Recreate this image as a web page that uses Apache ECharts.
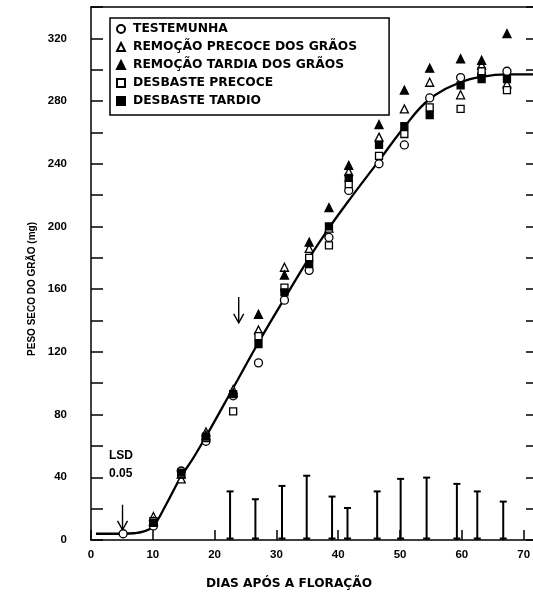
<!DOCTYPE html>
<html><head><meta charset="utf-8">
<script src="https://cdn.jsdelivr.net/npm/echarts@6/dist/echarts.min.js"></script>
<style>html,body{margin:0;padding:0;background:#fff}#c{width:533px;height:594px}</style>
</head><body><div id="c"></div>
<script>
// ---- data ----
const days = [5.2, 10.1, 14.6, 18.6, 23.0, 27.1, 31.3, 35.3, 38.5, 41.7, 46.6, 50.7, 54.8, 59.8, 63.2, 67.3];
const testemunha      = [4, 9, 44, 63, 92, 113, 153, 172, 193, 223, 240, 252, 282, 295, 297, 299];
const remocaoPrecoce  = [null, 15, 39, 69, 96, 134, 174, 186, 199, 235, 257, 275, 292, 284, 303, 291];
const remocaoTardia   = [null, 12, 42, 67, 94, 144, 169, 190, 212, 239, 265, 287, 301, 307, 306, 323];
const desbastePrecoce = [null, 12, 42, 65, 82, 130, 161, 180, 188, 227, 245, 259, 276, 275, 299, 287];
const desbasteTardio  = [null, 11, 43, 66, 93, 125, 158, 176, 200, 231, 252, 264, 271, 290, 294, 294];

const seriesNames = ['TESTEMUNHA', 'REMOÇÃO PRECOCE DOS GRÃOS', 'REMOÇÃO TARDIA DOS GRÃOS', 'DESBASTE PRECOCE', 'DESBASTE TARDIO'];

// fitted curve (traced)
const curveDays   = [0.8, 3, 5, 7, 8.4, 10, 12.2, 14.5, 16.5, 18.6, 23, 27.1, 31.3, 35.3, 38.5, 41.8, 46.6, 50.6, 54.7, 59.8, 63.2, 67.3, 72];
const curveValues = [4, 4, 4, 4.3, 5.3, 8.5, 23, 40, 52, 66, 97, 126, 154, 180, 199, 217, 242, 263, 281, 292, 295.5, 297, 297];

// LSD 0.05 bars
const lsdDays   = [22.5, 26.6, 30.9, 34.9, 39.0, 41.5, 46.3, 50.1, 54.3, 59.2, 62.5, 66.7];
const lsdValues = [31, 26, 34.5, 41, 27.7, 20.4, 31, 39, 39.8, 35.8, 31, 24.5];

// arrows (day, from value, to value)
const arrowDays = [5.1, 23.9];
const arrowFrom = [22.5, 155];
const arrowTo   = [6.5, 138.5];

const xTickLabels = [0, 10, 20, 30, 40, 50, 60, 70];
const yTickLabels = [0, 40, 80, 120, 160, 200, 240, 280, 320];

// ---- chart ----
const FONT = 'Liberation Sans';
const chart = echarts.init(document.getElementById('c'), null, {renderer: 'canvas'});

const symbolDefs = [
  {symbol: 'circle', fill: '#fff', size: 8},
  {symbol: 'triangle', fill: '#fff', size: 8},
  {symbol: 'triangle', fill: '#000', size: 8},
  {symbol: 'rect', fill: '#fff', size: 7},
  {symbol: 'rect', fill: '#000', size: 7}
];
const allValues = [testemunha, remocaoPrecoce, remocaoTardia, desbastePrecoce, desbasteTardio];

const scatterSeries = seriesNames.map((name, i) => ({
  name: name,
  type: 'scatter',
  symbol: symbolDefs[i].symbol,
  symbolSize: symbolDefs[i].size,
  symbolKeepAspect: true,
  itemStyle: {color: symbolDefs[i].fill, borderColor: '#000', borderWidth: 1.3, opacity: 1},
  z: 5 + i,
  data: days.map((d, k) => allValues[i][k] == null ? null : [d, allValues[i][k]]).filter(p => p)
}));

const option = {
  backgroundColor: '#fff',
  animation: false,
  grid: {left: 91, top: 7, width: 445, height: 533, outerBoundsMode: 'none', containLabel: false},
  legend: {
    data: seriesNames,
    orient: 'vertical',
    left: 110, top: 18,
    borderColor: '#000', borderWidth: 1.5,
    padding: [4, 32, 7, 6],
    itemWidth: 8, itemHeight: 8, itemGap: 4,
    symbolKeepAspect: true,
    textStyle: {fontFamily: 'DejaVu Sans', fontWeight: 'bold', fontSize: 12.3, color: '#000', lineHeight: 14, padding: [0, 0, 0, 3]},
    selectedMode: false
  },
  xAxis: [{
    type: 'value', min: 0, max: 72, interval: 10,
    axisLine: {show: true, onZero: false, lineStyle: {color: '#000', width: 1.5}},
    axisTick: {show: true, inside: true, length: 10, lineStyle: {color: '#000', width: 1.5}},
    axisLabel: {
      showMaxLabel: false, margin: 9, color: '#000', fontFamily: FONT, fontWeight: 'bold', fontSize: 11.5,
      formatter: v => xTickLabels.indexOf(v) >= 0 ? String(v) : ''
    },
    splitLine: {show: false}
  }, {
    type: 'value', min: 0, max: 72, position: 'top',
    axisLine: {show: true, onZero: false, lineStyle: {color: '#000', width: 1.5}},
    axisTick: {show: false}, axisLabel: {show: false}, splitLine: {show: false}
  }],
  yAxis: [{
    type: 'value', min: 0, max: 340, interval: 20, position: 'left',
    axisLine: {show: true, onZero: false, lineStyle: {color: '#000', width: 1.5}},
    axisTick: {show: true, inside: true, length: 12, lineStyle: {color: '#000', width: 1.5}},
    axisLabel: {
      margin: 24, color: '#000', fontFamily: FONT, fontWeight: 'bold', fontSize: 11.5,
      formatter: v => yTickLabels.indexOf(v) >= 0 ? String(v) : ''
    },
    splitLine: {show: false}
  }, {
    type: 'value', min: 0, max: 340, interval: 20, position: 'right',
    axisLine: {show: true, onZero: false, lineStyle: {color: '#000', width: 1.5}},
    axisTick: {show: true, inside: true, length: 10, lineStyle: {color: '#000', width: 1.5}},
    axisLabel: {show: false}, splitLine: {show: false}
  }],
  graphic: [
    {type: 'text', left: 27, top: 222, rotation: Math.PI / 2,
     style: {text: 'PESO SECO DO GRÃO (mg)', fill: '#000', font: 'bold 10px "Liberation Sans"'}},
    {type: 'text', left: 206, top: 578,
     style: {text: 'DIAS APÓS A FLORAÇÃO', fill: '#000', font: 'bold 12.2px "DejaVu Sans"'}},
    {type: 'text', left: 109, top: 450,
     style: {text: 'LSD', fill: '#000', font: 'bold 12px "Liberation Sans"'}},
    {type: 'text', left: 109, top: 468,
     style: {text: '0.05', fill: '#000', font: 'bold 12px "Liberation Sans"'}}
  ],
  series: [
    {
      name: 'curve', type: 'line', smooth: 0.4, symbol: 'none', z: 3,
      lineStyle: {color: '#000', width: 2.3},
      data: curveDays.map((d, i) => [d, curveValues[i]])
    },
    {
      name: 'lsd', type: 'custom', z: 4,
      encode: {x: 0, y: 1},
      data: lsdDays.map((d, i) => [d, lsdValues[i]]),
      renderItem: function (params, api) {
        const x = api.value(0), v = api.value(1);
        const t = api.coord([x, v]), b = api.coord([x, 0]);
        const hw = 3.5, st = {stroke: '#000', lineWidth: 2};
        return {type: 'group', children: [
          {type: 'line', shape: {x1: t[0], y1: t[1], x2: b[0], y2: b[1]}, style: st},
          {type: 'line', shape: {x1: t[0] - hw, y1: t[1], x2: t[0] + hw, y2: t[1]}, style: st},
          {type: 'line', shape: {x1: b[0] - hw, y1: b[1] - 1.5, x2: b[0] + hw, y2: b[1] - 1.5}, style: st}
        ]};
      }
    },
    {
      name: 'arrows', type: 'custom', z: 4,
      encode: {x: 0, y: 1},
      data: arrowDays.map((d, i) => [d, arrowFrom[i], arrowTo[i]]),
      renderItem: function (params, api) {
        const x = api.value(0);
        const a = api.coord([x, api.value(1)]), b = api.coord([x, api.value(2)]);
        const st = {stroke: '#000', lineWidth: 1.4, fill: null};
        return {type: 'group', children: [
          {type: 'line', shape: {x1: a[0], y1: a[1], x2: b[0], y2: b[1]}, style: st},
          {type: 'polyline', shape: {points: [[b[0] - 5, b[1] - 9], [b[0], b[1]], [b[0] + 5, b[1] - 9]]}, style: st}
        ]};
      }
    }
  ].concat(scatterSeries)
};
chart.setOption(option);
</script>
</body></html>
